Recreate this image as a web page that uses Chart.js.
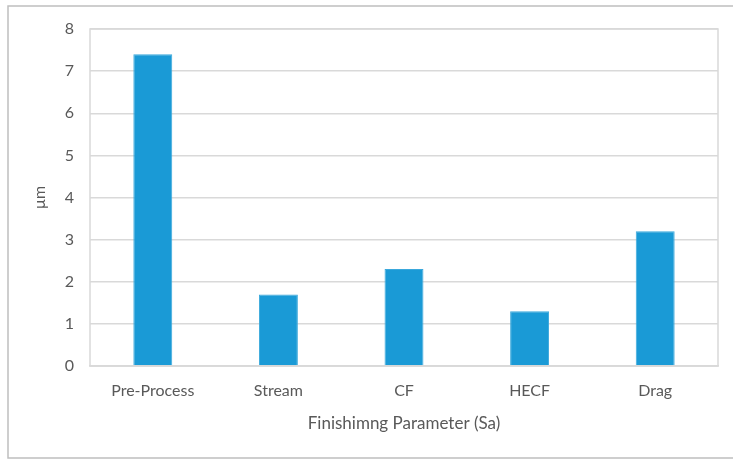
<!DOCTYPE html>
<html>
<head>
<meta charset="utf-8">
<script src="https://cdn.jsdelivr.net/npm/chart.js@4/dist/chart.umd.min.js"></script>
<style>
  html, body { margin: 0; padding: 0; background: #fff; }
  #wrap { width: 733px; height: 460px; }
</style>
</head>
<body>
<div id="wrap"><canvas id="chart" width="733" height="460"></canvas></div>
<script>
const categories = ['Pre-Process', 'Stream', 'CF', 'HECF', 'Drag'];
const saValues = [7.4, 1.7, 2.3, 1.3, 3.2];
const yMin = 0, yMax = 8, yStep = 1;

const textColor = '#595959';
const gridColor = '#d9d9d9';
const fontFamily = 'Lato, "Open Sans", sans-serif';

// outer frame and plot box
const framePlugin = {
  id: 'frame',
  beforeDraw(chart) {
    const ctx = chart.ctx;
    ctx.save();
    ctx.strokeStyle = '#bfbfbf';
    ctx.lineWidth = 1.5;
    ctx.beginPath();
    ctx.moveTo(733, 6);
    ctx.lineTo(8, 6);
    ctx.lineTo(8, 458);
    ctx.lineTo(733, 458);
    ctx.stroke();
    ctx.restore();
  },
  afterDraw(chart) {
    const a = chart.chartArea, ctx = chart.ctx;
    ctx.save();
    ctx.strokeStyle = gridColor;
    ctx.lineWidth = 1.5;
    ctx.strokeRect(a.left, a.top, a.right - a.left, a.bottom - a.top);
    ctx.restore();
  }
};

new Chart(document.getElementById('chart'), {
  type: 'bar',
  data: {
    labels: categories,
    datasets: [{
      label: 'Sa',
      data: saValues,
      backgroundColor: '#1a9ad6',
      borderColor: '#3aa8dc',
      borderWidth: 1,
      barPercentage: 0.62,
      categoryPercentage: 0.5
    }]
  },
  options: {
    responsive: false,
    animation: false,
    layout: { padding: { left: 26, right: 15, top: 29, bottom: 14 } },
    plugins: {
      legend: { display: false },
      tooltip: { enabled: false }
    },
    scales: {
      x: {
        grid: { display: false },
        border: { color: gridColor, width: 1.5 },
        ticks: { color: textColor, font: { family: fontFamily, size: 16 }, padding: 7 },
        title: {
          display: true,
          text: 'Finishimng Parameter (Sa)',
          color: textColor,
          font: { family: fontFamily, size: 17 },
          padding: { top: 8, bottom: 12 }
        },
        afterFit(scale) { scale.height = 80; }
      },
      y: {
        min: yMin,
        max: yMax,
        ticks: { stepSize: yStep, color: textColor, font: { family: fontFamily, size: 16 }, padding: 16 },
        grid: { color: gridColor, lineWidth: 1.5, drawTicks: false },
        border: { display: false },
        title: {
          display: true,
          text: 'µm',
          color: textColor,
          font: { family: fontFamily, size: 16 }
        },
        afterFit(scale) { scale.width = 64; }
      }
    }
  },
  plugins: [framePlugin]
});
</script>
</body>
</html>
